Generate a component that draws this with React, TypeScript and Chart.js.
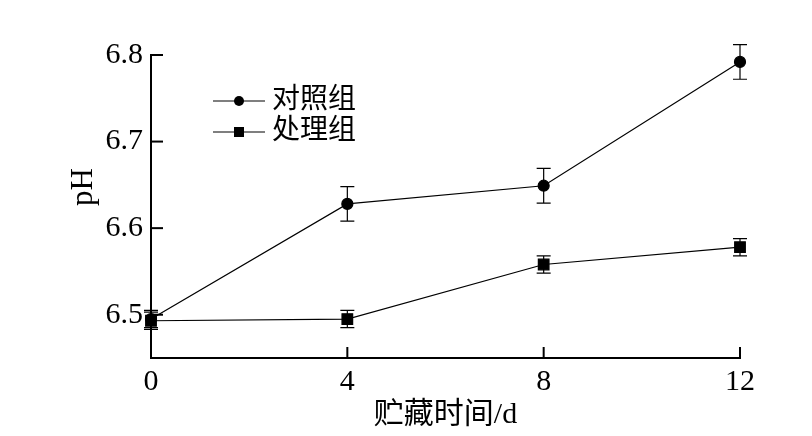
import React, { useEffect, useRef } from "react";
import { Chart, registerables } from "chart.js";

Chart.register(...registerables);

const days = [0, 4, 8, 12];
const controlPH = [6.495, 6.628, 6.649, 6.792];
const controlErr = [0.01, 0.02, 0.02, 0.02];
const treatedPH = [6.493, 6.495, 6.558, 6.578];
const treatedErr = [0.01, 0.01, 0.01, 0.01];
const yTicks = [6.5, 6.6, 6.7, 6.8];
const xTicks = [0, 4, 8, 12];
const seriesNames = ["对照组", "处理组"];
const yTitle = "pH";
const xTitle = "贮藏时间/d";

const SERIF = "'Liberation Serif', 'Times New Roman', 'Noto Sans CJK SC', serif";

const errorBarPlugin = {
  id: "errorBars",
  afterDatasetsDraw(chart: any) {
    const ctx = chart.ctx;
    const xs = chart.scales.x;
    const ys = chart.scales.y;
    const errs = [controlErr, treatedErr];
    ctx.save();
    ctx.strokeStyle = "#000";
    ctx.lineWidth = 1.2;
    chart.data.datasets.forEach((ds: any, di: number) => {
      ds.data.forEach((p: any, i: number) => {
        const x = xs.getPixelForValue(p.x);
        const yt = ys.getPixelForValue(p.y + errs[di][i]);
        const yb = ys.getPixelForValue(p.y - errs[di][i]);
        ctx.beginPath();
        ctx.moveTo(x, yt);
        ctx.lineTo(x, yb);
        ctx.moveTo(x - 7, yt);
        ctx.lineTo(x + 7, yt);
        ctx.moveTo(x - 7, yb);
        ctx.lineTo(x + 7, yb);
        ctx.stroke();
      });
    });
    ctx.restore();
  },
};

const axisTickPlugin = {
  id: "inwardTicks",
  afterDraw(chart: any) {
    const ctx = chart.ctx;
    const xs = chart.scales.x;
    const ys = chart.scales.y;
    const area = chart.chartArea;
    ctx.save();
    ctx.strokeStyle = "#000";
    ctx.lineWidth = 2;
    yTicks.forEach((v) => {
      const y = ys.getPixelForValue(v);
      ctx.beginPath();
      ctx.moveTo(area.left, y);
      ctx.lineTo(area.left + 12, y);
      ctx.stroke();
    });
    xTicks.forEach((v) => {
      const x = xs.getPixelForValue(v);
      ctx.beginPath();
      ctx.moveTo(x, area.bottom);
      ctx.lineTo(x, area.bottom - 11);
      ctx.stroke();
    });
    // y-axis title
    ctx.fillStyle = "#000";
    ctx.font = "31px " + SERIF;
    ctx.textAlign = "center";
    ctx.textBaseline = "middle";
    ctx.translate(84, 187);
    ctx.rotate(-Math.PI / 2);
    ctx.fillText(yTitle, 0, 0);
    ctx.restore();
  },
};

const legendPlugin = {
  id: "customLegend",
  afterDraw(chart: any) {
    const ctx = chart.ctx;
    ctx.save();
    const rows = [
      { y: 101, shape: "circle" },
      { y: 132, shape: "square" },
    ];
    rows.forEach((r, i) => {
      ctx.strokeStyle = "#000";
      ctx.fillStyle = "#000";
      ctx.lineWidth = 1.2;
      ctx.beginPath();
      ctx.moveTo(213, r.y);
      ctx.lineTo(265, r.y);
      ctx.stroke();
      if (r.shape === "circle") {
        ctx.beginPath();
        ctx.arc(239, r.y, 5, 0, Math.PI * 2);
        ctx.fill();
      } else {
        ctx.fillRect(234, r.y - 5, 10, 10);
      }
      ctx.font = "28px " + SERIF;
      ctx.textBaseline = "middle";
      ctx.textAlign = "left";
      ctx.fillText(seriesNames[i], 272, r.y);
    });
    ctx.restore();
  },
};

export default function App() {
  const ref = useRef<HTMLCanvasElement>(null);
  useEffect(() => {
    if (!ref.current) return;
    const chart = new Chart(ref.current, {
      type: "line",
      data: {
        datasets: [
          {
            label: seriesNames[0],
            data: days.map((d, i) => ({ x: d, y: controlPH[i] })),
            borderColor: "#000",
            backgroundColor: "#000",
            borderWidth: 1.2,
            pointStyle: "circle",
            pointRadius: 5.5,
            clip: false as any,
          },
          {
            label: seriesNames[1],
            data: days.map((d, i) => ({ x: d, y: treatedPH[i] })),
            borderColor: "#000",
            backgroundColor: "#000",
            borderWidth: 1.2,
            pointStyle: "rect",
            pointRadius: 7.5,
            clip: false as any,
          },
        ],
      },
      options: {
        animation: false,
        responsive: false,
        layout: { padding: { top: 55, right: 72, left: 0, bottom: 0 } },
        plugins: { legend: { display: false }, tooltip: { enabled: false } },
        scales: {
          x: {
            type: "linear",
            min: 0,
            max: 12,
            afterBuildTicks: (s: any) => {
              s.ticks = xTicks.map((v) => ({ value: v }));
            },
            afterFit: (s: any) => {
              s.height = 78;
            },
            grid: { display: false, drawTicks: false },
            border: { display: true, color: "#000", width: 2 },
            ticks: {
              color: "#000",
              padding: 6,
              font: { family: SERIF, size: 30 },
            },
            title: {
              display: true,
              text: xTitle,
              color: "#000",
              font: { family: SERIF, size: 30 },
              padding: { top: 0, bottom: 3 },
            },
          },
          y: {
            type: "linear",
            min: 6.45,
            max: 6.8,
            afterBuildTicks: (s: any) => {
              s.ticks = yTicks.map((v) => ({ value: v }));
            },
            afterFit: (s: any) => {
              s.width = 151;
            },
            grid: { display: false, drawTicks: false },
            border: { display: true, color: "#000", width: 2 },
            ticks: {
              color: "#000",
              padding: 8,
              font: { family: SERIF, size: 30 },
              callback: (v: any) => Number(v).toFixed(1),
            },
            title: { display: false },
          },
        },
      },
      plugins: [errorBarPlugin, axisTickPlugin, legendPlugin],
    } as any);
    return () => chart.destroy();
  }, []);
  return (
    <div style={{ position: "absolute", left: 0, top: 0, width: 812, height: 436, background: "#fff" }}>
      <canvas ref={ref} width={812} height={436} style={{ width: 812, height: 436 }} />
    </div>
  );
}
